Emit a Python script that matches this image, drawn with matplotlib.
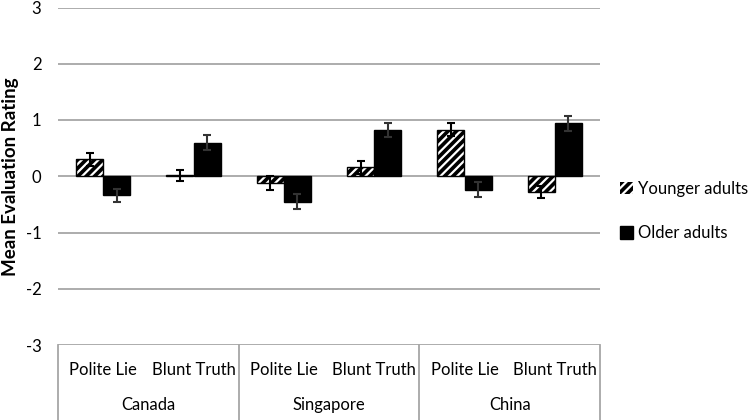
import numpy as np
import matplotlib.pyplot as plt
from matplotlib.patches import Patch

plt.rcParams['font.family'] = ['Lato', 'DejaVu Sans']
plt.rcParams['axes.unicode_minus'] = False

# data
countries = ['Canada', 'Singapore', 'China']
conditions = ['Polite Lie', 'Blunt Truth']
younger = [0.30, 0.02, -0.12, 0.16, 0.83, -0.28]
younger_err = [0.12, 0.10, 0.12, 0.12, 0.12, 0.11]
older = [-0.34, 0.60, -0.45, 0.82, -0.24, 0.94]
older_err = [0.12, 0.13, 0.13, 0.13, 0.13, 0.14]

fig = plt.figure(figsize=(7.49, 4.2), dpi=100)
ax = fig.add_axes([58 / 749, 1 - 345 / 420, 542 / 749, 337.5 / 420])

x = np.arange(len(younger))
w = 0.3
grid_col = '#a6a6a6'
fs = 12

# gridlines
for yv in range(-3, 4):
    ax.axhline(yv, color=grid_col, lw=1.3, zorder=0)

# younger: black with white diagonal stripes, then black outline
plt.rcParams['hatch.linewidth'] = 1.6
ax.bar(x - w / 2, younger, w, color='black', edgecolor='white', hatch='////', lw=0, zorder=2)
ax.bar(x - w / 2, younger, w, facecolor='none', edgecolor='black', lw=1, zorder=3)
ax.bar(x + w / 2, older, w, color='black', edgecolor='black', lw=1, zorder=2)

ax.errorbar(x - w / 2, younger, yerr=younger_err, fmt='none', ecolor='black',
            elinewidth=1.5, capsize=3, capthick=1.5, zorder=4)
ax.errorbar(x + w / 2, older, yerr=older_err, fmt='none', ecolor='#333333',
            elinewidth=1.5, capsize=3, capthick=1.5, zorder=4)

ax.set_xlim(-0.5, len(x) - 0.5)
ax.set_ylim(-3, 3)
ax.set_yticks(range(-3, 4))
ax.tick_params(axis='y', length=0, pad=12, labelsize=fs)
ax.set_xticks([])
for s in ax.spines.values():
    s.set_visible(False)
ax.set_ylabel('Mean Evaluation Rating', fontsize=13.5, fontweight='bold', va='center')
ax.yaxis.set_label_coords(-0.088, 0.5)

# category table under the axis
tr = ax.get_xaxis_transform()
for i in range(len(x)):
    ax.text(x[i], -0.074, conditions[i % 2], transform=tr, ha='center', va='center', fontsize=fs)
for j, c in enumerate(countries):
    ax.text(2 * j + 0.5, -0.178, c, transform=tr, ha='center', va='center', fontsize=fs)
for b in [-0.5, 1.5, 3.5, 5.5]:
    ax.plot([b, b], [0, -0.23], transform=tr, color=grid_col, lw=1.3, clip_on=False)

handles = [Patch(facecolor='black', edgecolor='white', hatch='////', lw=0),
           Patch(facecolor='black', edgecolor='black')]
fig.legend(handles, ['Younger adults', 'Older adults'], loc='center left',
           bbox_to_anchor=(605 / 749, 1 - 211 / 420), frameon=False, fontsize=fs,
           handlelength=0.8, handleheight=0.8, handletextpad=0.3, labelspacing=1.7)

fig.savefig('out.png', dpi=100)
